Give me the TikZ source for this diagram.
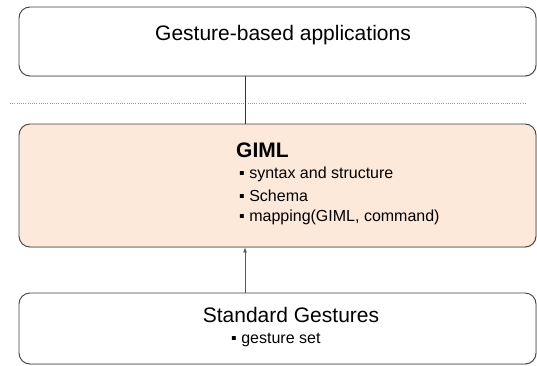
\documentclass[tikz,border=0pt]{standalone}
\usepackage{fontspec}
\setmainfont{Liberation Sans}
\usetikzlibrary{arrows.meta,shadows}
\definecolor{edge}{HTML}{404040}
\definecolor{peach}{HTML}{FDE9D9}
\tikzset{
  layer/.style={draw=edge, line width=0.9pt, rounded corners=11pt,
    minimum width=517pt, inner sep=0pt,
    drop shadow={opacity=0.25, shadow xshift=0.8pt, shadow yshift=-0.8pt}},
  bigtext/.style={font=\fontsize{21}{25}\selectfont, inner sep=0pt},
  itemtext/.style={font=\fontsize{16}{19}\selectfont, inner sep=0pt, anchor=base west},
  link/.style={draw=black!80, line width=0.8pt},
}
\begin{document}
\begin{tikzpicture}[x=1pt,y=1pt]
\useasboundingbox (0,0) rectangle (537,365);
% three layers
\node[layer, fill=white, minimum height=69pt] (apps) at (277.5,323.5) {};
\node[layer, fill=peach, minimum height=123pt] (giml) at (277.5,179.5) {};
\node[layer, fill=white, minimum height=71pt] (std) at (277.5,36.5) {};
% separator
\coordinate (sepL) at (10,262);
\coordinate (sepR) at (526,262);
\draw[gray!80, line width=0.8pt, dash pattern=on 1pt off 1.2pt] (sepL) -- (sepR);
% connectors
\coordinate (lx) at (245.5,0);
\coordinate (ax) at (245,0);
\draw[link] (apps.south -| lx) -- (giml.north -| lx);
\draw[link, draw=black!65, -{Latex[length=5pt,width=4pt]}] (std.north -| ax) -- (giml.south -| ax);
% labels
\node[bigtext, anchor=base] (tApps) at (283,324) {Gesture-based applications};
\node[font=\bfseries\fontsize{21}{25}\selectfont, inner sep=0pt, anchor=base west] (tGiml) at (236,208) {GIML};
\node[itemtext] (i1) at (239,186.5) {▪ syntax and structure};
\node[itemtext] (i2) at (239,164) {▪ Schema};
\node[itemtext] (i3) at (239,144) {▪ mapping(GIML, command)};
\node[bigtext, anchor=base] (tStd) at (291,43) {Standard Gestures};
\node[itemtext] (i4) at (231,22) {▪ gesture set};
\end{tikzpicture}
\end{document}
